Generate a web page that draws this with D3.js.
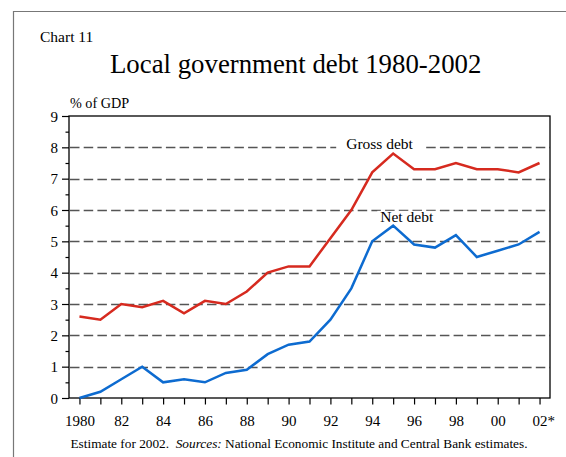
<!DOCTYPE html>
<html>
<head>
<meta charset="utf-8">
<script src="https://cdnjs.cloudflare.com/ajax/libs/d3/7.8.5/d3.min.js"></script>
<style>
  body { margin: 0; background: #fff; }
  text { font-family: "Liberation Serif", "Times New Roman", serif; fill: #000; }
</style>
</head>
<body>
<script>
// chart values
var years = d3.range(1980, 2003);
var grossDebt = [2.6, 2.5, 3.0, 2.9, 3.1, 2.7, 3.1, 3.0, 3.4, 4.0, 4.2, 4.2, 5.1, 6.0, 7.2, 7.8, 7.3, 7.3, 7.5, 7.3, 7.3, 7.2, 7.5];
var netDebt = [0.0, 0.2, 0.6, 1.0, 0.5, 0.6, 0.5, 0.8, 0.9, 1.4, 1.7, 1.8, 2.5, 3.5, 5.0, 5.5, 4.9, 4.8, 5.2, 4.5, 4.7, 4.9, 5.3];
var yTicks = [0, 1, 2, 3, 4, 5, 6, 7, 8, 9];
var xLabels = ["1980", "82", "84", "86", "88", "90", "92", "94", "96", "98", "00", "02*"];

var width = 566, height = 457;
var plotLeft = 69, plotRight = 550, plotTop = 116, plotBottom = 398;

var svg = d3.select("body").append("svg")
    .attr("width", width)
    .attr("height", height);

// outer frame of the chart page
svg.append("path")
    .attr("d", "M13.5," + height + "V11.5H" + width)
    .attr("fill", "none")
    .attr("stroke", "#777")
    .attr("stroke-width", 1.2);

var x = d3.scaleLinear().domain([1979.5, 2002.5]).range([plotLeft, plotRight]);
var y = d3.scaleLinear().domain([0, 9]).range([plotBottom, plotTop]);

// gridlines
svg.append("g").selectAll("line")
    .data(yTicks.filter(function(d) { return d > 0 && d < 9; }))
    .enter().append("line")
    .attr("x1", plotLeft + 1).attr("x2", plotRight)
    .attr("y1", function(d) { return Math.round(y(d)) + 0.5; })
    .attr("y2", function(d) { return Math.round(y(d)) + 0.5; })
    .attr("stroke", "#555")
    .attr("stroke-width", 1.3)
    .attr("stroke-dasharray", "9.5,4.2");

var labels = [
    {text: "Gross debt", year: 1994.35, value: 8.07, pad: 10, cover: 15},
    {text: "Net debt", year: 1995.65, value: 5.75, pad: 3, cover: 11}
];

var lineGen = d3.line()
    .x(function(d, i) { return x(years[i]); })
    .y(function(d) { return y(d); });

// left axis with half-unit minor ticks
var yAxis = d3.axisLeft(y).tickValues(yTicks).tickSize(7).tickFormat(d3.format("d"));
var yMinor = d3.axisLeft(y).tickValues(d3.range(0.5, 9, 1)).tickSize(3.5).tickFormat("");

var gy = svg.append("g").attr("transform", "translate(" + plotLeft + ",0)").call(yAxis);
svg.append("g").attr("transform", "translate(" + plotLeft + ",0)").call(yMinor);

var xAxis = d3.axisBottom(x).tickValues(years).tickSize(6.5).tickFormat(function(d, i) {
    return i % 2 == 0 ? xLabels[i / 2] : "";
});
var gx = svg.append("g").attr("transform", "translate(0," + plotBottom + ")").call(xAxis);

svg.selectAll(".domain").remove();
svg.selectAll(".tick line").attr("stroke", "#000").attr("stroke-width", 1.2);
gy.selectAll("text").attr("font-size", 15).attr("x", -11).attr("dy", "0.35em");
gx.selectAll("text").attr("font-size", 15).attr("y", 28).attr("dy", 0)
    .attr("dx", function(d) { return d == 2002 ? 3.7 : 0; });

// plot box
svg.append("rect")
    .attr("x", plotLeft).attr("y", plotTop)
    .attr("width", plotRight - plotLeft).attr("height", plotBottom - plotTop)
    .attr("fill", "none")
    .attr("stroke", "#000")
    .attr("stroke-width", 1.3);

// series labels with white patches over the gridlines
var labelG = svg.append("g");
labels.forEach(function(l) {
    var bg = labelG.append("rect").attr("fill", "#fff");
    var t = labelG.append("text")
        .attr("x", x(l.year))
        .attr("y", y(l.value) + 4)
        .attr("text-anchor", "middle")
        .attr("font-size", 15.5)
        .text(l.text);
    var b = t.node().getBBox();
    bg.attr("x", b.x - l.pad).attr("y", y(l.value) + 4 - l.cover)
        .attr("width", b.width + 2 * l.pad).attr("height", l.cover + 4);
});

svg.append("path")
    .datum(grossDebt)
    .attr("d", lineGen)
    .attr("fill", "none")
    .attr("stroke", "#d62a1f")
    .attr("stroke-width", 2.5);

svg.append("path")
    .datum(netDebt)
    .attr("d", lineGen)
    .attr("fill", "none")
    .attr("stroke", "#0d6bd0")
    .attr("stroke-width", 2.5);

svg.append("text").attr("x", 40).attr("y", 42).attr("font-size", 15.5).text("Chart 11");
svg.append("text").attr("x", 110).attr("y", 73)
    .attr("font-size", 26.8).text("Local government debt 1980-2002");
svg.append("text").attr("x", 70).attr("y", 108).attr("font-size", 14.2).text("% of GDP");

var foot = svg.append("text").attr("x", 299).attr("y", 448).attr("text-anchor", "middle")
    .attr("font-size", 13.3);
foot.append("tspan").text("Estimate for 2002.\u00a0\u00a0");
foot.append("tspan").attr("font-style", "italic").text("Sources:");
foot.append("tspan").text(" National Economic Institute and Central Bank estimates.");
</script>
</body>
</html>
